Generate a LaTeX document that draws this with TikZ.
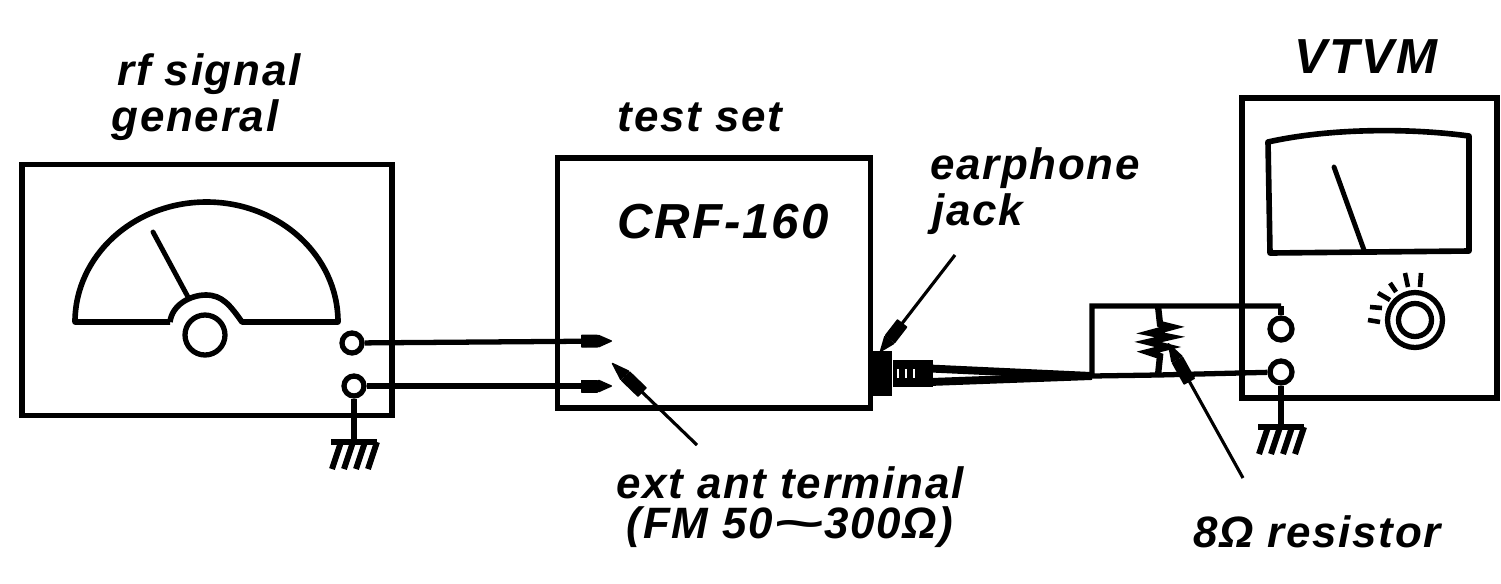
\documentclass[tikz,border=0pt]{standalone}
\usepackage{fontspec}
\setmainfont[LetterSpace=4]{Liberation Sans}
\usepackage{tikz}
\usetikzlibrary{positioning, arrows.meta}

\begin{document}
\begin{tikzpicture}[
  x=0.02cm, y=-0.02cm,
  every node/.style={font=\fontsize{25}{27}\selectfont\bfseries\itshape},
  biglabel/.style={font=\fontsize{28}{30}\selectfont\bfseries\itshape},
  instbox/.style={
    rectangle, draw=black, line width=3.3pt, inner sep=0pt
  },
  termcircle/.style={
    circle, draw=black, line width=3pt, fill=white, inner sep=0pt,
    minimum size=#1*0.02cm
  },
  meterline/.style={draw=black, line width=3.2pt, line join=round},
  needleline/.style={draw=black, line width=2.8pt, line cap=round},
  wireline/.style={draw=black, line width=3pt},
  wiretip/.style={wireline, -{Rectangle[length=0.34cm, width=0.26cm, round, line width=0.8pt]Triangle[length=0.3cm, width=0.26cm, round, line width=0.8pt]}},
  pointerline/.style={
    draw=black, line width=1.8pt,
    -{Rectangle[length=#1*0.011cm, width=0.26cm, round, line width=0.8pt]Triangle[length=#1*0.009cm, width=0.26cm, round, line width=0.8pt]}
  },
  gndsym/.pic={
    \draw[black, line width=3.4pt] (-23,0) -- (23,0);
    \foreach \dx in {-13,-1,11,23}
      \draw[black, line width=3.4pt] (\dx,0) -- (\dx-9,27);
  },
]
\useasboundingbox (0,0) rectangle (1501,583);

% === RF SIGNAL GENERATOR ===
\node[instbox, minimum width=7.4cm, minimum height=5.02cm] (genbox) at (207,290) {};
\draw[meterline]
  (170,322) -- (75,322) arc[start angle=180, end angle=360, x radius=131.5, y radius=120]
  -- (242,322) .. controls (230,305) and (222,295) .. (206,295)
  .. controls (190,295) and (172,305) .. (170,322);
\draw[needleline] (153,232) -- (188,297);
\node[termcircle=40] (genknob) at (205,335) {};
\node[termcircle=20] (genhot) at (352,343) {};
\node[termcircle=20] (gengnd) at (354,386) {};
\coordinate (gengndbot) at (354,442);
\pic at (gengndbot) {gndsym};
\node (genlabelA) at (209,74) {rf signal};
\node (genlabelB) at (195,120) {general};

% === TEST SET ===
\node[instbox, minimum width=6.26cm, minimum height=5cm] (setbox) at (714,283) {};
\node (setlabel) at (700,117) {test set};
\node[biglabel] (setname) at (723,222) {CRF-160};
\coordinate (anthot) at (612,341);
\coordinate (antgnd) at (612,386);
\draw[wiretip] (genhot) -- (anthot);
\draw[wiretip] (gengnd) -- (antgnd);
\draw[wireline] (gengnd) -- (gengndbot);

% === EARPHONE PLUG AND CABLE ===
\node[rectangle, fill=black, minimum width=0.44cm, minimum height=0.9cm, inner sep=0pt] (jackcap) at (881,373) {};
\node[rectangle, fill=black, minimum width=0.8cm, minimum height=0.54cm, inner sep=0pt, right=0pt of jackcap] (jackbody) {};
\coordinate (cableA) at (930,368.5);
\coordinate (cableB) at (930,382);
\coordinate (boxjoin) at (1092,376);
\draw[wireline, line width=4.5pt] (cableA) -- (boxjoin);
\draw[wireline, line width=4.5pt] (cableB) -- (boxjoin);
\foreach \xp in {898,906,914}
  \draw[white, line width=1pt] (\xp,369) -- (\xp,378);

% === LOAD RESISTOR ===
\coordinate (loadtl) at (1092,306);
\coordinate (loadtop) at (1158,306);
\coordinate (loadbot) at (1158,375);
\coordinate (vtvmtop) at (1281,306);
\draw[wireline] (vtvmtop) -- (loadtl) -- (boxjoin) -- (loadbot);
\draw[wireline, line width=3.6pt]
  (loadtop) -- (1160,324) -- (1172,327) -- (1150,333) -- (1170,337) -- (1148,342)
  -- (1168,347) -- (1148,352) -- (1160,356) -- (loadbot);

% === VTVM ===
\node[instbox, minimum width=5.1cm, minimum height=6cm] (vtvmbox) at (1369.5,248) {};
\draw[meterline]
  (1268,142) .. controls (1330,128) and (1410,128) .. (1469,136)
  -- (1469,251) -- (1270,253) -- cycle;
\draw[needleline] (1334,167) -- (1364,250);
\node[termcircle=22] (vtvmhot) at (1281,329) {};
\node[termcircle=22] (vtvmgnd) at (1281,372) {};
\node[circle, draw=black, line width=3pt, minimum size=1.1cm, inner sep=0pt] (vtvmknob) at (1415,320) {};
\node[circle, draw=black, line width=3pt, minimum size=0.66cm, inner sep=0pt] (vtvmknobin) at (1415,320) {};
\foreach \xa/\ya/\xb/\yb in {1368/320/1380/322, 1370/307/1382/308, 1378/293/1390/300,
    1390/283/1396/292, 1405/273/1408/287, 1421/273/1420/287}
  \draw[black, line width=2.6pt] (\xa,\ya) -- (\xb,\yb);
\coordinate (vtvmgndbot) at (1281,427);
\pic at (vtvmgndbot) {gndsym};
\draw[wireline] (vtvmtop) -- (vtvmhot);
\draw[wireline] (loadbot) -- (vtvmgnd);
\draw[wireline] (vtvmgnd) -- (vtvmgndbot);
\node[biglabel] (vtvmlabel) at (1366,57) {VTVM};

% === CALLOUTS ===
\node (jacklabelA) at (1035,168) {earphone};
\node (jacklabelB) at (978,214) {jack};
\coordinate (jackfrom) at (955,255);
\coordinate (jackto) at (880,352);
\draw[pointerline=38] (jackfrom) -- (jackto);
\node (antlabelA) at (790,483) {ext ant terminal};
\node (antlabelB) at (790,527) {(FM 50\scalebox{2}[1]{\textasciitilde}300Ω)};
\coordinate (antfrom) at (697,445);
\coordinate (antto) at (612,363);
\draw[pointerline=44] (antfrom) -- (antto);
\node (reslabel) at (1317,532) {8Ω resistor};
\coordinate (resfrom) at (1243,478);
\coordinate (resto) at (1168,343);
\draw[pointerline=46] (resfrom) -- (resto);

\end{tikzpicture}
\end{document}
